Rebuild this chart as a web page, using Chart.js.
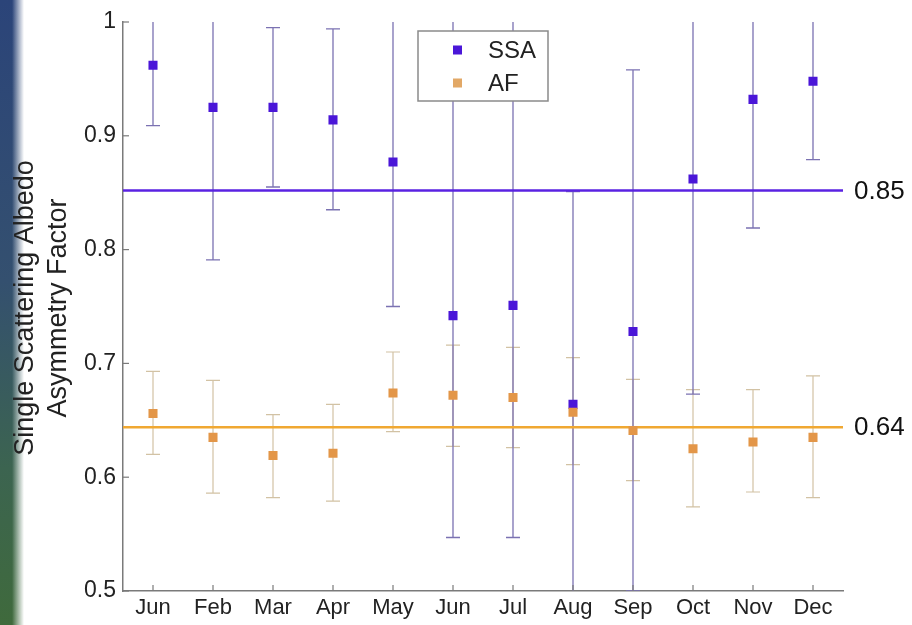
<!DOCTYPE html>
<html>
<head>
<meta charset="utf-8">
<script src="https://cdn.jsdelivr.net/npm/chart.js@4"></script>
<style>
  html, body { margin: 0; padding: 0; background: #fff; }
  #wrap { position: relative; width: 912px; height: 625px; }
  #strip {
    position: absolute; left: 0; top: 0; width: 30px; height: 625px;
    background:
      linear-gradient(to right, rgba(255,255,255,0) 0px, rgba(255,255,255,0) 12px, #fff 24px),
      linear-gradient(to bottom, #2b4479 0%, #34506f 45%, #3c6450 75%, #3f6a3c 100%);
  }
  canvas { position: absolute; left: 0; top: 0; }
</style>
</head>
<body>
<div id="wrap">
  <div id="strip"></div>
  <canvas id="chart" width="912" height="625"></canvas>
</div>
<script>
// months (first one really is labelled Jun in the original)
const categories = ['Jun', 'Feb', 'Mar', 'Apr', 'May', 'Jun', 'Jul', 'Aug', 'Sep', 'Oct', 'Nov', 'Dec'];

// single scattering albedo, with error bar ends
const ssaValues = [0.962, 0.925, 0.925, 0.914, 0.877, 0.742, 0.751, 0.664, 0.728, 0.862, 0.932, 0.948];
const ssaUpper  = [1.02, 1.08, 0.995, 0.994, 1.08, 1.08, 1.08, 0.851, 0.958, 1.08, 1.08, 1.05];
const ssaLower  = [0.909, 0.791, 0.855, 0.835, 0.750, 0.547, 0.547, 0.46, 0.50, 0.673, 0.819, 0.879];

// asymmetry factor, with error bar ends
const afValues = [0.656, 0.635, 0.619, 0.621, 0.674, 0.672, 0.670, 0.657, 0.641, 0.625, 0.631, 0.635];
const afUpper  = [0.693, 0.685, 0.655, 0.664, 0.710, 0.716, 0.714, 0.705, 0.686, 0.677, 0.677, 0.689];
const afLower  = [0.620, 0.586, 0.582, 0.579, 0.640, 0.627, 0.626, 0.611, 0.597, 0.574, 0.587, 0.582];

// annual means drawn as horizontal lines
const meanValues = [0.852, 0.644];
const meanLabels = ['0.85', '0.64'];

const yTickLabels = ['0.5', '0.6', '0.7', '0.8', '0.9', '1'];
const seriesNames = ['SSA', 'AF'];
const yTitle = ['Single Scattering Albedo', 'Asymmetry Factor'];

const FONT = '"Liberation Sans", Arial, Helvetica, sans-serif';
const ssaColor = '#4a16d8';
const afColor = '#e39648';

const extras = {
    id: 'extras',
    beforeDatasetsDraw(chart) {
        const ctx = chart.ctx;
        const area = chart.chartArea;
        const x = chart.scales.x;
        const y = chart.scales.y;

        ctx.save();
        ctx.beginPath();
        ctx.rect(area.left, area.top, area.right - area.left, area.bottom - area.top);
        ctx.clip();

        // error bars
        const bars = [
            [afUpper, afLower, '#d2c2a4', 1.2],
            [ssaUpper, ssaLower, '#7b72b2', 1.3]
        ];
        bars.forEach(function (b) {
            ctx.strokeStyle = b[2];
            ctx.lineWidth = b[3];
            for (let i = 0; i < categories.length; i++) {
                const px = x.getPixelForValue(i);
                const top = y.getPixelForValue(b[0][i]);
                const bot = y.getPixelForValue(b[1][i]);
                ctx.beginPath();
                ctx.moveTo(px, top); ctx.lineTo(px, bot);
                ctx.moveTo(px - 7, top); ctx.lineTo(px + 7, top);
                ctx.moveTo(px - 7, bot); ctx.lineTo(px + 7, bot);
                ctx.stroke();
            }
        });
        ctx.restore();

        // mean lines
        const lineColors = ['#5a22e2', '#f0a832'];
        ctx.save();
        ctx.lineWidth = 2.5;
        meanValues.forEach(function (v, i) {
            const py = y.getPixelForValue(v);
            ctx.strokeStyle = lineColors[i];
            ctx.beginPath();
            ctx.moveTo(area.left, py);
            ctx.lineTo(area.right, py);
            ctx.stroke();
            ctx.fillStyle = '#111';
            ctx.font = '26px ' + FONT;
            ctx.textBaseline = 'middle';
            ctx.textAlign = 'left';
            ctx.fillText(meanLabels[i], area.right + 11, py + 1);
        });

        // inward tick marks
        ctx.strokeStyle = '#7a7a7a';
        ctx.lineWidth = 1.2;
        y.ticks.forEach(function (t) {
            const py = y.getPixelForValue(t.value);
            ctx.beginPath();
            ctx.moveTo(area.left, py); ctx.lineTo(area.left + 6, py);
            ctx.stroke();
        });
        for (let i = 0; i < categories.length; i++) {
            const px = x.getPixelForValue(i);
            ctx.beginPath();
            ctx.moveTo(px, area.bottom); ctx.lineTo(px, area.bottom - 6);
            ctx.stroke();
        }

        // y axis title, two lines
        ctx.fillStyle = '#222';
        ctx.font = '27px ' + FONT;
        ctx.textAlign = 'center';
        ctx.textBaseline = 'middle';
        ctx.translate(26, 308);
        ctx.rotate(-Math.PI / 2);
        ctx.fillText(yTitle[0], 0, 0);
        ctx.fillText(yTitle[1], 0, 33);
        ctx.restore();
    },
    afterDraw(chart) {
        // legend box
        const ctx = chart.ctx;
        ctx.save();
        ctx.fillStyle = '#fff';
        ctx.fillRect(418, 31, 130, 70);
        ctx.strokeStyle = '#8a8a8a';
        ctx.lineWidth = 1.5;
        ctx.strokeRect(418, 31, 130, 70);
        const cols = [ssaColor, '#e2a866'];
        ctx.font = '24px ' + FONT;
        ctx.textBaseline = 'middle';
        ctx.textAlign = 'left';
        seriesNames.forEach(function (n, i) {
            const cy = 50 + i * 33;
            ctx.fillStyle = cols[i];
            ctx.fillRect(453, cy - 4.5, 9, 9);
            ctx.fillStyle = '#222';
            ctx.fillText(n, 488, cy + 1);
        });
        ctx.restore();
    }
};

const ctx = document.getElementById('chart').getContext('2d');
const chart = new Chart(ctx, {
    type: 'line',
    data: {
        labels: categories,
        datasets: [{
            label: 'AF',
            data: afValues,
            showLine: false,
            pointStyle: 'rect',
            pointRadius: 6.4,
            pointHoverRadius: 6.4,
            pointBackgroundColor: afColor,
            pointBorderWidth: 0
        }, {
            label: 'SSA',
            data: ssaValues,
            showLine: false,
            pointStyle: 'rect',
            pointRadius: 6.4,
            pointHoverRadius: 6.4,
            pointBackgroundColor: ssaColor,
            pointBorderWidth: 0
        }]
    },
    options: {
        responsive: false,
        animation: false,
        layout: { padding: { top: 22, right: 69, left: 0, bottom: 0 } },
        plugins: {
            legend: { display: false },
            tooltip: { enabled: false }
        },
        scales: {
            x: {
                offset: true,
                grid: { display: false, drawTicks: false },
                border: { display: true, color: '#7a7a7a', width: 1.5 },
                ticks: {
                    color: '#222',
                    font: { family: FONT, size: 22 },
                    padding: 4,
                    maxRotation: 0,
                    autoSkip: false
                },
                afterFit: function (scale) { scale.height = 34; }
            },
            y: {
                min: 0.5,
                max: 1,
                grid: { display: false, drawTicks: false },
                border: { display: true, color: '#7a7a7a', width: 1.5 },
                ticks: {
                    stepSize: 0.1,
                    color: '#222',
                    font: { family: FONT, size: 23 },
                    padding: 7,
                    callback: function (v, i) { return yTickLabels[i]; }
                },
                afterFit: function (scale) { scale.width = 123; }
            }
        }
    },
    plugins: [extras]
});
</script>
</body>
</html>
